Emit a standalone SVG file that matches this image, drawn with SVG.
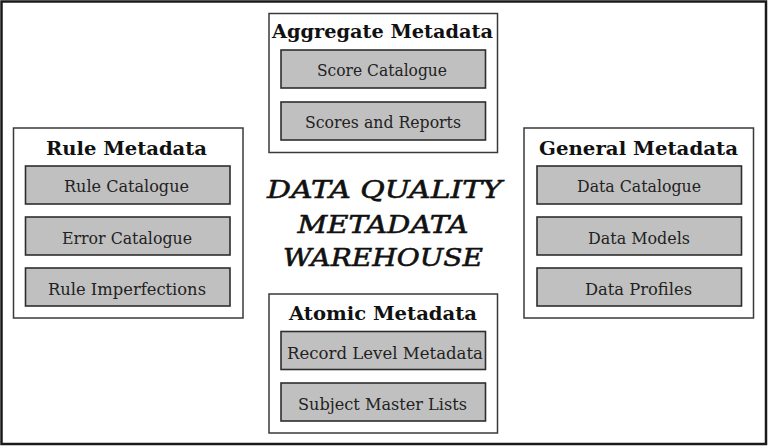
<svg xmlns="http://www.w3.org/2000/svg" width="768" height="448" viewBox="0 0 768 448">
<style>
.frame{fill:#fff;stroke:#1a1a1a;stroke-width:2.5}
.grp{fill:#fff;stroke:#3a3a3a;stroke-width:1.5}
.item{fill:#c0c0c0;stroke:#2e2e2e;stroke-width:1.6}
.title{font-family:"DejaVu Serif","Liberation Serif",serif;font-weight:bold;font-size:19px;fill:#111;text-anchor:middle}
.lbl{font-family:"DejaVu Serif","Liberation Serif",serif;font-size:16px;fill:#222;text-anchor:middle}
.center{font-family:"DejaVu Serif","Liberation Serif",serif;font-style:italic;font-size:25px;fill:#111;stroke:#111;stroke-width:0.6;text-anchor:middle}
</style>
<rect x="0" y="0" width="768" height="448" fill="#fff"/>
<rect class="frame" x="1.5" y="1.5" width="764.5" height="442.5"/>
<g id="center-title">
<text class="center" x="384.5" y="198" textLength="235" lengthAdjust="spacingAndGlyphs">DATA QUALITY</text>
<text class="center" x="383" y="233" textLength="171" lengthAdjust="spacingAndGlyphs">METADATA</text>
<text class="center" x="383" y="266" textLength="200" lengthAdjust="spacingAndGlyphs">WAREHOUSE</text>
</g>
<g id="aggregate-metadata">
<rect class="grp" x="269" y="13.5" width="228.5" height="139"/>
<text class="title" x="382.5" y="38" textLength="221" lengthAdjust="spacingAndGlyphs">Aggregate Metadata</text>
<rect class="item" x="281" y="50" width="204.5" height="38"/>
<text class="lbl" x="382" y="76" textLength="130" lengthAdjust="spacingAndGlyphs">Score Catalogue</text>
<rect class="item" x="281" y="102" width="204.5" height="38"/>
<text class="lbl" x="383" y="128" textLength="156" lengthAdjust="spacingAndGlyphs">Scores and Reports</text>
</g>
<g id="rule-metadata">
<rect class="grp" x="13.5" y="128" width="229.5" height="190"/>
<text class="title" x="126.5" y="155" textLength="161" lengthAdjust="spacingAndGlyphs">Rule Metadata</text>
<rect class="item" x="25.5" y="166" width="204.5" height="38"/>
<text class="lbl" x="126.5" y="192" textLength="125" lengthAdjust="spacingAndGlyphs">Rule Catalogue</text>
<rect class="item" x="25.5" y="217" width="204.5" height="38"/>
<text class="lbl" x="127" y="244" textLength="130" lengthAdjust="spacingAndGlyphs">Error Catalogue</text>
<rect class="item" x="25.5" y="268" width="204.5" height="38"/>
<text class="lbl" x="127" y="294.5" textLength="158" lengthAdjust="spacingAndGlyphs">Rule Imperfections</text>
</g>
<g id="general-metadata">
<rect class="grp" x="524" y="128" width="229.5" height="190"/>
<text class="title" x="638.5" y="155" textLength="199" lengthAdjust="spacingAndGlyphs">General Metadata</text>
<rect class="item" x="537" y="166" width="204.5" height="38"/>
<text class="lbl" x="639" y="192" textLength="124" lengthAdjust="spacingAndGlyphs">Data Catalogue</text>
<rect class="item" x="537" y="217" width="204.5" height="38"/>
<text class="lbl" x="639" y="244" textLength="102" lengthAdjust="spacingAndGlyphs">Data Models</text>
<rect class="item" x="537" y="268" width="204.5" height="38"/>
<text class="lbl" x="638.5" y="294.5" textLength="107" lengthAdjust="spacingAndGlyphs">Data Profiles</text>
</g>
<g id="atomic-metadata">
<rect class="grp" x="269" y="294" width="228.5" height="139"/>
<text class="title" x="383" y="320" textLength="188" lengthAdjust="spacingAndGlyphs">Atomic Metadata</text>
<rect class="item" x="281" y="331.5" width="204.5" height="38"/>
<text class="lbl" x="385" y="358.5" textLength="196" lengthAdjust="spacingAndGlyphs">Record Level Metadata</text>
<rect class="item" x="281" y="383" width="204.5" height="38"/>
<text class="lbl" x="382.5" y="410" textLength="169" lengthAdjust="spacingAndGlyphs">Subject Master Lists</text>
</g>
<g id="connectors"></g>
</svg>
